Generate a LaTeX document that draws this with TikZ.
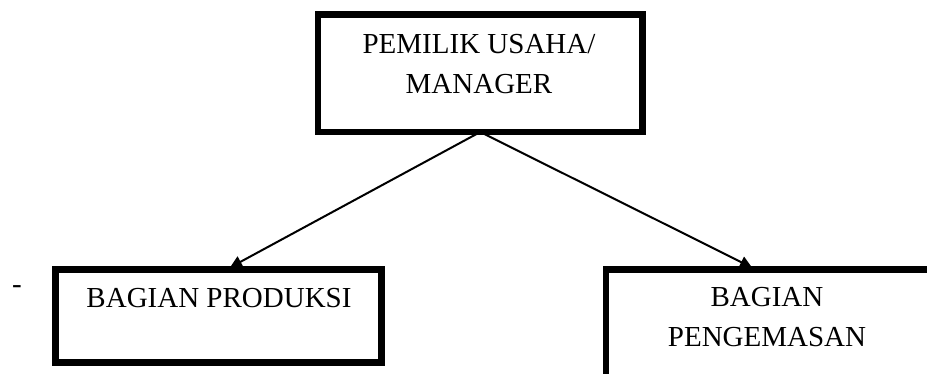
\documentclass[tikz,border=0pt]{standalone}
\usepackage{fontspec}
\setmainfont{Liberation Serif}
\usetikzlibrary{arrows.meta}
\begin{document}
\begin{tikzpicture}[x=1pt,y=-1pt,
  box/.style={draw=black,line width=6.5pt,rectangle,inner sep=0pt,outer sep=0pt},
  lbl/.style={font=\fontsize{29}{40}\selectfont,inner sep=0pt,align=center,anchor=base},
  conn/.style={line width=2pt,-{Triangle[width=12pt,length=12pt]}}]
\useasboundingbox (0,0) rectangle (927,374);
\clip (0,0) rectangle (927,374);
\node[box,minimum width=324.5pt,minimum height=117.5pt] (top) at (480.25,73.25) {};
\node[box,minimum width=326pt,minimum height=93pt] (left) at (218.5,316) {};
\node[box,minimum width=354pt,minimum height=131pt] (right) at (783,335) {};
\node[lbl] (toptxt) at (479,94) {PEMILIK USAHA/\\MANAGER};
\node[lbl] (lefttxt) at (219,308) {BAGIAN PRODUKSI};
\node[lbl] (righttxt) at (767,346) {BAGIAN\\PENGEMASAN};
\node[lbl] (dash) at (17,294) {-};
\draw[conn] (top.south) -- ([xshift=11.5pt,yshift=2pt]left.north);
\draw[conn] (top.south) -- ([xshift=-31pt,yshift=2pt]right.north);
\end{tikzpicture}
\end{document}
